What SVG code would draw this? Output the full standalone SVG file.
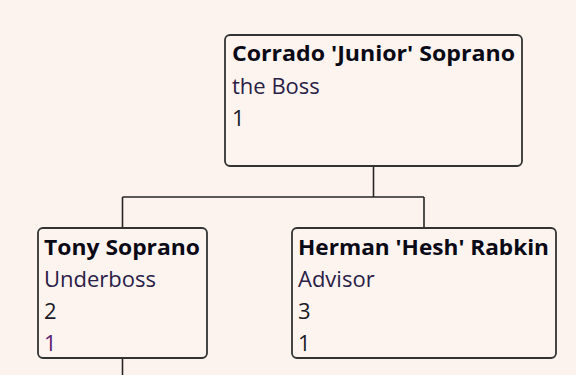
<svg xmlns="http://www.w3.org/2000/svg" width="576" height="375" viewBox="0 0 576 375">
  <style>
    .box { fill: #fdf4f0; stroke: #333333; stroke-width: 1.8; }
    .conn { fill: none; stroke: #262626; stroke-width: 1.6; }
    text { font-family: "Open Sans", "Noto Sans", "DejaVu Sans", sans-serif; font-size: 22px; }
    .name { font-weight: bold; fill: #0a0a16; }
    .role { fill: #2a2046; }
    .num { fill: #1a1a26; }
    .num2 { fill: #5a2070; }
  </style>
  <rect x="0" y="0" width="576" height="375" fill="#fdf3ee"/>
  <g id="connectors">
    <path class="conn" d="M373.5 166 V197 M122.5 197 H424 M122.5 197 V228 M424 197 V228 M122.5 358 V375"/>
  </g>
  <g id="node-junior">
    <rect class="box" x="225" y="35" width="297" height="131" rx="5"/>
    <text class="name" x="232" y="61" textLength="283" lengthAdjust="spacingAndGlyphs">Corrado 'Junior' Soprano</text>
    <text class="role" x="232" y="93.5">the Boss</text>
    <text class="num" x="232" y="126">1</text>
  </g>
  <g id="node-tony">
    <rect class="box" x="38" y="228" width="169" height="130" rx="5"/>
    <text class="name" x="44" y="254.5" textLength="156" lengthAdjust="spacingAndGlyphs">Tony Soprano</text>
    <text class="role" x="44" y="286.5">Underboss</text>
    <text class="num" x="44" y="318.5">2</text>
    <text class="num2" x="44" y="350.5">1</text>
  </g>
  <g id="node-hesh">
    <rect class="box" x="292" y="228" width="264" height="130" rx="5"/>
    <text class="name" x="298" y="254.5" textLength="251" lengthAdjust="spacingAndGlyphs">Herman 'Hesh' Rabkin</text>
    <text class="role" x="298" y="286.5">Advisor</text>
    <text class="num" x="298" y="318.5">3</text>
    <text class="num" x="298" y="350.5">1</text>
  </g>
</svg>
